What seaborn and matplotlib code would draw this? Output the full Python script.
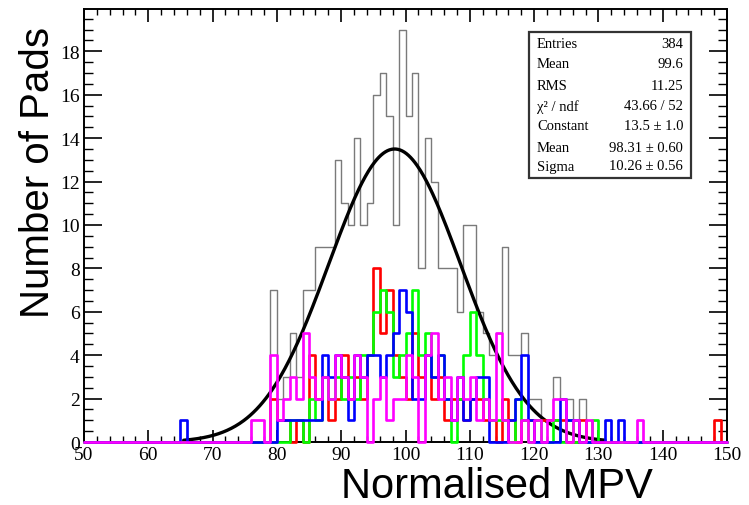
import numpy as np
import pandas as pd
import matplotlib
matplotlib.use('Agg')
import matplotlib.pyplot as plt
import seaborn as sns
from matplotlib.ticker import MultipleLocator
from matplotlib.patches import Rectangle

# --- Data (bin low edge -> content, 1-unit bins from 50 to 150) ---
bin_edges = list(range(50, 151))

total_bins = [65, 76, 77, 79, 80, 81, 82, 83, 84, 85, 86, 87, 88, 89, 90, 91, 92, 93, 94,
              95, 96, 97, 98, 99, 100, 101, 102, 103, 104, 105, 106, 107, 108, 109, 110,
              111, 112, 113, 114, 115, 116, 117, 118, 119, 120, 121, 122, 123, 124, 125,
              126, 127, 128, 129, 131, 133, 136, 148]
total_counts = [1, 1, 1, 7, 2, 3, 5, 3, 7, 7, 9, 9, 9, 13, 11, 10, 14, 10, 11,
                16, 17, 15, 10, 19, 15, 17, 8, 14, 12, 8, 8, 8, 6, 10, 10,
                6, 5, 4, 5, 9, 4, 4, 5, 2, 2, 1, 1, 3, 2, 2,
                1, 2, 1, 1, 1, 1, 1, 1]

red_bins = [79, 80, 81, 83, 85, 86, 87, 88, 89, 90, 91, 92, 93, 94, 95, 96, 97, 98, 99,
            100, 101, 102, 103, 104, 105, 106, 107, 108, 109, 110, 111, 112, 113, 115,
            116, 118, 119, 120, 121, 122, 123, 124, 127, 148]
red_counts = [2, 1, 1, 1, 4, 2, 3, 1, 2, 4, 2, 3, 2, 4, 8, 5, 7, 4, 3,
              2, 5, 3, 4, 2, 3, 1, 2, 2, 1, 2, 2, 1, 1, 2,
              1, 1, 1, 1, 1, 1, 1, 1, 1, 1]

green_bins = [82, 83, 85, 86, 87, 88, 89, 90, 91, 92, 93, 94, 95, 96, 97, 98, 99, 100,
              101, 102, 103, 104, 105, 106, 108, 109, 110, 111, 112, 113, 114, 115, 117,
              118, 120, 123, 125, 129]
green_counts = [1, 1, 2, 1, 3, 2, 3, 2, 3, 2, 4, 4, 6, 7, 6, 3, 4, 5,
                7, 4, 5, 3, 4, 2, 2, 4, 6, 4, 2, 1, 1, 1, 2,
                1, 1, 1, 1, 1]

blue_bins = [65, 80, 81, 82, 83, 84, 85, 86, 87, 88, 89, 90, 91, 92, 93, 94, 95, 96, 97,
             98, 99, 100, 101, 102, 103, 104, 105, 106, 107, 108, 109, 110, 111, 112,
             116, 117, 118, 119, 124, 125, 126, 131, 133]
blue_counts = [1, 1, 1, 1, 1, 1, 1, 1, 4, 3, 4, 3, 1, 4, 3, 4, 4, 3, 4,
               5, 7, 6, 2, 2, 4, 3, 4, 2, 1, 3, 1, 2, 3, 3,
               1, 2, 4, 1, 2, 1, 1, 1, 1]

magenta_bins = [76, 77, 79, 80, 81, 82, 83, 84, 85, 86, 87, 88, 89, 90, 91, 92, 93, 95,
                96, 97, 98, 99, 100, 101, 103, 104, 105, 106, 107, 108, 109, 110, 111,
                112, 113, 114, 115, 118, 120, 122, 123, 124, 126, 128, 136]
magenta_counts = [1, 1, 4, 1, 2, 3, 2, 5, 3, 2, 3, 2, 4, 3, 2, 4, 3, 2,
                  3, 1, 2, 2, 4, 3, 4, 5, 2, 3, 1, 3, 2, 3, 1,
                  2, 1, 5, 1, 1, 1, 1, 2, 2, 1, 1, 1]

# Gaussian fit result shown in the stats box
fit_constant = 13.5
fit_mean = 98.31
fit_sigma = 10.26
fit_lo, fit_hi = 65.5, 131.0

stats_names = ['Entries', 'Mean', 'RMS', 'χ² / ndf', 'Constant', 'Mean', 'Sigma']
stats_values = ['384', '99.6', '11.25', '43.66 / 52', '13.5 ± 1.0', '98.31 ± 0.60', '10.26 ± 0.56']

# --- Plot ---
sns.set_style('ticks')
plt.rcParams['font.family'] = ['Liberation Serif', 'DejaVu Serif']
plt.rcParams['text.color'] = 'black'
plt.rcParams['xtick.color'] = 'black'
plt.rcParams['ytick.color'] = 'black'

fig = plt.figure(figsize=(7.49, 5.06), dpi=100)
W, H = 749, 506
ax = fig.add_axes([84 / W, 1 - 443 / H, (727 - 84) / W, (443 - 10) / H])


def hist_frame(bins, counts):
    return pd.DataFrame({'x': np.array(bins) + 0.5, 'w': counts})


sns.histplot(data=hist_frame(total_bins, total_counts), x='x', weights='w', bins=bin_edges,
             element='step', fill=False, color='#7a7a7a', linewidth=1.0, ax=ax)

xf = np.linspace(fit_lo, fit_hi, 400)
fit_df = pd.DataFrame({'x': xf, 'y': fit_constant * np.exp(-0.5 * ((xf - fit_mean) / fit_sigma) ** 2)})
sns.lineplot(data=fit_df, x='x', y='y', color='black', linewidth=2.4, ax=ax)

for bins, counts, col in [(red_bins, red_counts, '#ff0000'),
                          (green_bins, green_counts, '#00ff00'),
                          (blue_bins, blue_counts, '#0000ff'),
                          (magenta_bins, magenta_counts, '#ff00ff')]:
    sns.histplot(data=hist_frame(bins, counts), x='x', weights='w', bins=bin_edges,
                 element='step', fill=False, color=col, linewidth=1.9, ax=ax)

# let the zero-level outlines sit on top of the bottom frame like in ROOT
for ln in ax.lines:
    ln.set_clip_on(False)
    ln.set_zorder(3)

ax.set_xlim(50, 150)
ax.set_ylim(0, 19.95)
ax.set_xlabel('')
ax.set_ylabel('')
ax.xaxis.set_major_locator(MultipleLocator(10))
ax.xaxis.set_minor_locator(MultipleLocator(2))
ax.yaxis.set_major_locator(MultipleLocator(2))
ax.yaxis.set_minor_locator(MultipleLocator(0.5))
ax.tick_params(which='both', direction='in', top=True, right=True, colors='black',
               labelsize=14)
ax.tick_params(axis='x', which='major', length=9, width=1.2, pad=3)
ax.tick_params(axis='x', which='minor', length=4.5, width=1.0)
ax.tick_params(axis='y', which='major', length=13, width=1.2, pad=3)
ax.tick_params(axis='y', which='minor', length=6.5, width=1.0)
for s in ax.spines.values():
    s.set_linewidth(1.4)
    s.set_color('black')

# axis titles
fig.text(38 / W, 1 - 172 / H, 'Number of Pads', rotation=90, ha='center', va='center',
         fontsize=29, color='black', family=['Liberation Sans', 'DejaVu Sans'])
fig.text(497 / W, 1 - 487 / H, 'Normalised MPV', ha='center', va='center',
         fontsize=30, color='black', family=['Liberation Sans', 'DejaVu Sans'])

# stats box
fig.patches.append(Rectangle((529 / W, 1 - 179 / H), (691 - 529) / W, (179 - 33) / H,
                             transform=fig.transFigure, facecolor='white',
                             edgecolor='#333333', linewidth=1.6, zorder=5))
row_y = [45, 65, 86, 107, 127, 148, 167]
for name, val, yy in zip(stats_names, stats_values, row_y):
    fig.text(537 / W, 1 - yy / H, name, ha='left', va='center', fontsize=10.5, zorder=6)
    fig.text(683 / W, 1 - yy / H, val, ha='right', va='center', fontsize=10.5, zorder=6)

fig.savefig('out.png', dpi=100)
